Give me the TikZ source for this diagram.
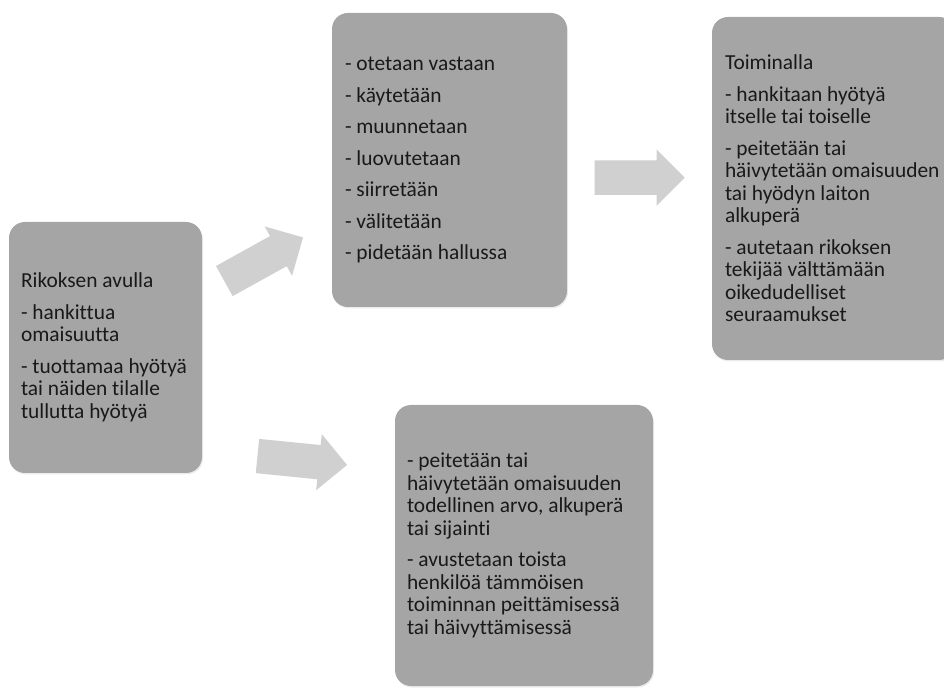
\documentclass[tikz,border=0pt]{standalone}
\usepackage{fontspec}
\setmainfont{Carlito}[Ligatures=NoCommon]
\usepackage{xcolor}
\usetikzlibrary{positioning,shapes.arrows,shadows}
\definecolor{boxgray}{HTML}{A5A5A5}
\definecolor{arrowgray}{HTML}{D0D0D0}

\begin{document}
\begin{tikzpicture}[x=1pt, y=1pt,
          arrowstyle/.style={single arrow, fill=arrowgray, draw=none, anchor=tip,
            minimum height=90pt, minimum width=56pt, inner sep=17pt, single arrow head extend=11pt}]
          % A box style
          \tikzstyle{boxnode} = [rectangle, rounded corners=16pt, fill=boxgray, draw=none,
            drop shadow={shadow xshift=1pt, shadow yshift=-1.5pt, opacity=0.15}]
          \tikzstyle{textnode} = [align=left, inner sep=0pt, text=black!90,
            font=\fontsize{21.4}{22.5}\selectfont]

          \useasboundingbox (0,0) rectangle (944,688);
          \clip (0,0) rectangle (944,688);

          % Place the boxes
          \node (crime)   [boxnode, minimum width=193pt, minimum height=251pt] at (105.5,340.5) {};
          \node (acts)    [boxnode, minimum width=235pt, minimum height=294pt] at (449.5,528) {};
          \node (aims)    [boxnode, minimum width=243pt, minimum height=343pt] at (833.5,499.5) {};
          \node (conceal) [boxnode, minimum width=258pt, minimum height=281pt] at (524,142.5) {};

          % Texts in the boxes
          \node (crimetext) [textnode, right=12pt of crime.west] {Rikoksen avulla\\[9pt]
            - hankittua\\ omaisuutta\\[9pt]
            - tuottamaa hyötyä\\ tai näiden tilalle\\ tullutta hyötyä};
          \node (actstext) [textnode, right=13pt of acts.west] {- otetaan vastaan\\[9pt]
            - käytetään\\[9pt] - muunnetaan\\[9pt] - luovutetaan\\[9pt]
            - siirretään\\[9pt] - välitetään\\[9pt] - pidetään hallussa};
          \node (aimstext) [textnode, right=13pt of aims.west] {Toiminalla\\[9pt]
            - hankitaan hyötyä\\ itselle tai toiselle\\[9pt]
            - peitetään tai\\ häivytetään omaisuuden\\ tai hyödyn laiton\\ alkuperä\\[9pt]
            - autetaan rikoksen\\ tekijää välttämään\\ oikedudelliset\\ seuraamukset};
          \node (concealtext) [textnode, right=12pt of conceal.west] {- peitetään tai\\
            häivytetään omaisuuden\\ todellinen arvo, alkuperä\\ tai sijainti\\[9pt]
            - avustetaan toista\\ henkilöä tämmöisen\\ toiminnan peittämisessä\\
            tai häivyttämisessä};

          % Draw the block arrows
          \node (upper) [arrowstyle, rotate=29] at (303.3,450.7) {};
          \node (right) [arrowstyle] at (685,510.3) {};
          \node (lower) [arrowstyle, rotate=-5.7] at (347.3,223) {};

          \end{tikzpicture}
\end{document}
